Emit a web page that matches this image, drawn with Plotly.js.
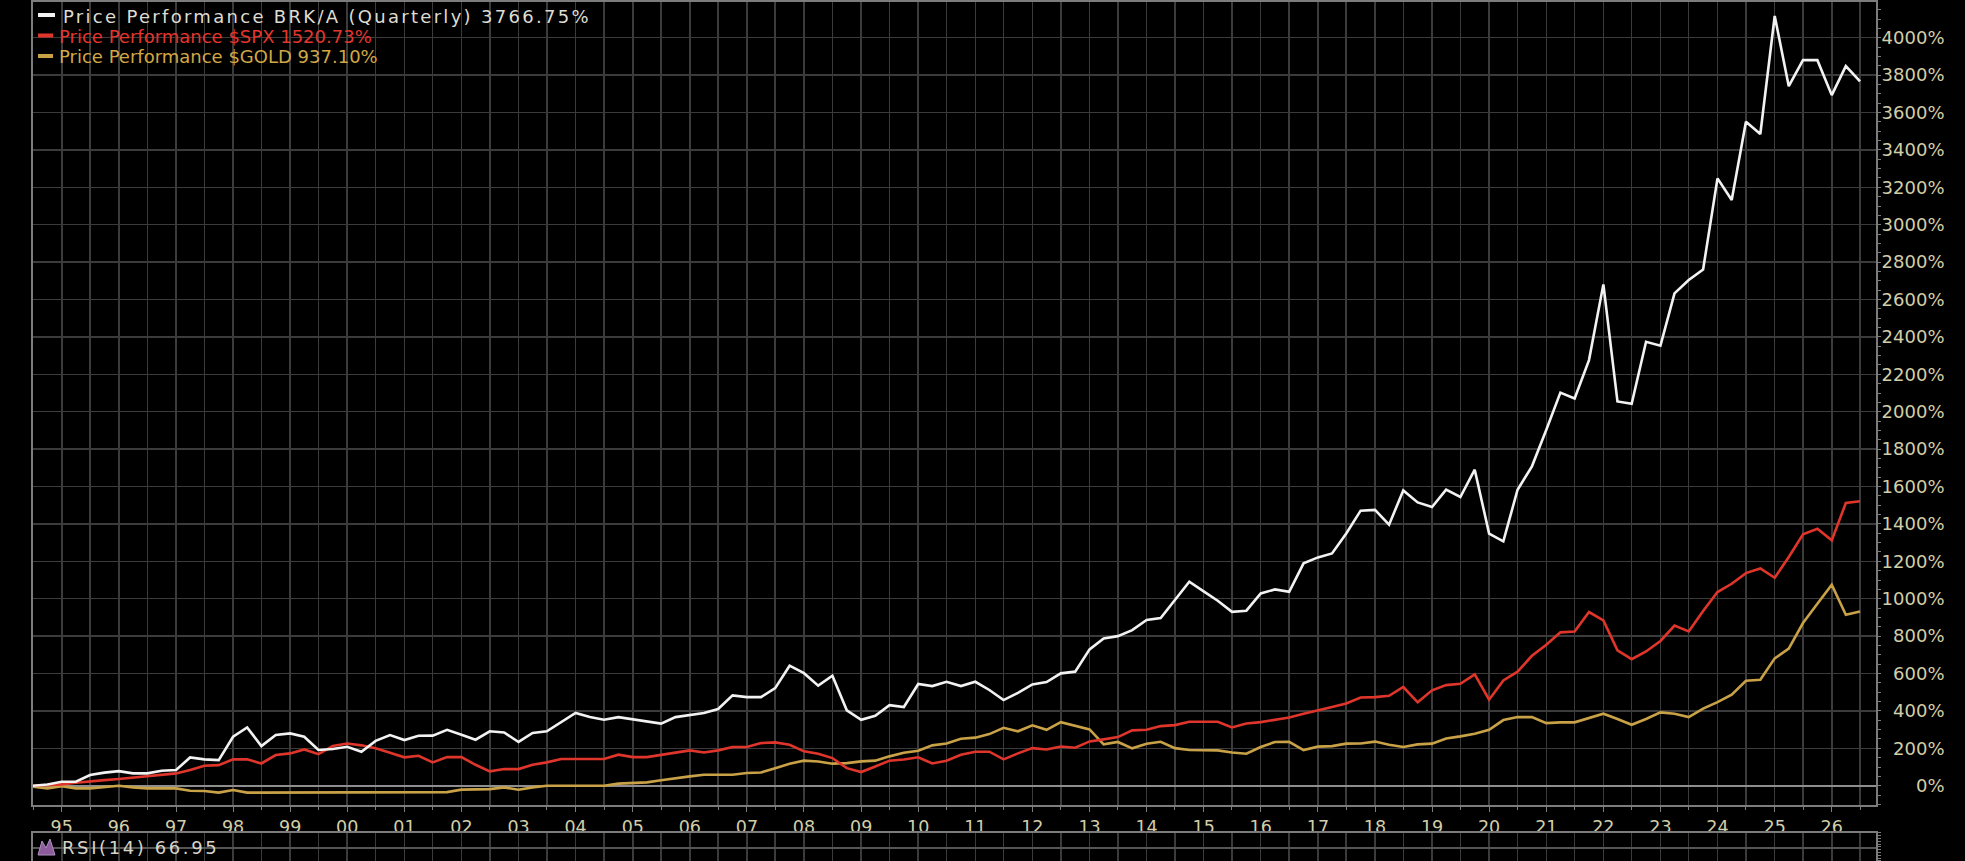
<!DOCTYPE html>
<html>
<head>
<meta charset="utf-8">
<script src="https://cdn.plot.ly/plotly-3.0.1.min.js"></script>
<style>
html,body{margin:0;padding:0;background:#000;}
#chart{width:1965px;height:861px;}
</style>
</head>
<body>
<div id="chart"></div>
<script>
// Quarterly observation dates
const quarters = [
"1994-07-01","1994-10-01",
"1995-01-01","1995-04-01","1995-07-01","1995-10-01",
"1996-01-01","1996-04-01","1996-07-01","1996-10-01",
"1997-01-01","1997-04-01","1997-07-01","1997-10-01",
"1998-01-01","1998-04-01","1998-07-01","1998-10-01",
"1999-01-01","1999-04-01","1999-07-01","1999-10-01",
"2000-01-01","2000-04-01","2000-07-01","2000-10-01",
"2001-01-01","2001-04-01","2001-07-01","2001-10-01",
"2002-01-01","2002-04-01","2002-07-01","2002-10-01",
"2003-01-01","2003-04-01","2003-07-01","2003-10-01",
"2004-01-01","2004-04-01","2004-07-01","2004-10-01",
"2005-01-01","2005-04-01","2005-07-01","2005-10-01",
"2006-01-01","2006-04-01","2006-07-01","2006-10-01",
"2007-01-01","2007-04-01","2007-07-01","2007-10-01",
"2008-01-01","2008-04-01","2008-07-01","2008-10-01",
"2009-01-01","2009-04-01","2009-07-01","2009-10-01",
"2010-01-01","2010-04-01","2010-07-01","2010-10-01",
"2011-01-01","2011-04-01","2011-07-01","2011-10-01",
"2012-01-01","2012-04-01","2012-07-01","2012-10-01",
"2013-01-01","2013-04-01","2013-07-01","2013-10-01",
"2014-01-01","2014-04-01","2014-07-01","2014-10-01",
"2015-01-01","2015-04-01","2015-07-01","2015-10-01",
"2016-01-01","2016-04-01","2016-07-01","2016-10-01",
"2017-01-01","2017-04-01","2017-07-01","2017-10-01",
"2018-01-01","2018-04-01","2018-07-01","2018-10-01",
"2019-01-01","2019-04-01","2019-07-01","2019-10-01",
"2020-01-01","2020-04-01","2020-07-01","2020-10-01",
"2021-01-01","2021-04-01","2021-07-01","2021-10-01",
"2022-01-01","2022-04-01","2022-07-01","2022-10-01",
"2023-01-01","2023-04-01","2023-07-01","2023-10-01",
"2024-01-01","2024-04-01","2024-07-01","2024-10-01",
"2025-01-01","2025-04-01","2025-07-01","2025-10-01",
"2026-01-01","2026-04-01","2026-07-01"
];

// Price performance (%) BRK/A
const brkPerf = [
0, 7,
21, 21, 57, 70,
78, 66, 66, 80,
84, 151, 141, 137,
262, 312, 212, 271,
280, 262, 191, 196,
208, 182, 240, 271,
244, 267, 268, 299,
273, 246, 291, 285,
234, 282, 291, 339,
389, 367, 353, 367,
356, 344, 332, 367,
380, 389, 410, 483,
474, 474, 522, 642,
602, 535, 588, 403,
353, 374, 431, 421,
544, 533, 556, 533,
556, 512, 458, 497,
542, 554, 601, 610,
729, 788, 800, 832,
886, 897, 993, 1091,
1039, 989, 930, 936,
1028, 1050, 1037, 1189,
1221, 1242, 1349, 1471,
1475, 1396, 1579, 1515,
1490, 1583, 1544, 1690,
1348, 1307, 1583, 1708,
1904, 2102, 2071, 2276,
2681, 2055, 2043, 2374,
2353, 2633, 2704, 2761,
3248, 3132, 3551, 3485,
4116, 3741, 3880, 3880,
3693, 3848, 3767
];

// Price performance (%) $SPX
const spxPerf = [
0, 4,
7, 16, 21, 30,
36, 43, 48, 57,
66, 84, 107, 110,
141, 141, 119, 164,
173, 194, 169, 212,
226, 216, 200, 176,
152, 160, 125, 153,
153, 112, 77, 89,
89, 112, 125, 143,
143, 143, 143, 166,
153, 153, 166, 178,
189, 178, 189, 207,
207, 228, 232, 219,
184, 171, 148, 94,
73, 103, 134, 140,
152, 119, 134, 166,
182, 182, 141, 173,
201, 194, 210, 203,
237, 248, 260, 296,
299, 319, 324, 342,
342, 342, 312, 333,
340, 353, 365, 385,
405, 421, 440, 472,
474, 481, 528, 446,
510, 538, 545, 595,
460, 563, 610, 695,
754, 820, 825, 929,
884, 724, 677, 718,
774, 856, 825, 934,
1036, 1080, 1137, 1162,
1112, 1223, 1344, 1374,
1312, 1512, 1521
];

// Price performance (%) $GOLD
const goldPerf = [
-5, -14,
-2, -14, -14, -5,
0, -9, -14, -14,
-14, -27, -28, -37,
-23, -37, -37, -36,
-36, -37, -35, -36,
-36, -37, -36, -37,
-37, -37, -33, -34,
-21, -18, -18, -9,
-21, -9, 0, 0,
0, 0, 0, 11,
14, 18, 29, 41,
50, 59, 59, 59,
68, 71, 94, 118,
134, 130, 118, 121,
130, 134, 157, 176,
187, 216, 226, 251,
257, 276, 310, 291,
323, 299, 340, 321,
301, 221, 234, 200,
225, 235, 201, 191,
191, 189, 178, 171,
207, 234, 235, 191,
209, 212, 225, 226,
236, 219, 207, 221,
225, 253, 264, 278,
299, 351, 367, 367,
335, 339, 339, 360,
385, 357, 326, 357,
392, 385, 367, 412,
447, 487, 561, 567,
681, 733, 870, 973,
1075, 914, 932
];

const seriesNames = [
  "Price Performance BRK/A (Quarterly) 3766.75%",
  "Price Performance $SPX 1520.73%",
  "Price Performance $GOLD 937.10%"
];
const rsiLabel = "RSI(14) 66.95";

const yTickVals = [0,200,400,600,800,1000,1200,1400,1600,1800,2000,2200,2400,2600,2800,3000,3200,3400,3600,3800,4000];
const yTickText = yTickVals.map(v => "\u2007".repeat(4 - String(v).length) + v + "%");

const WHITE = "#f2f2f2", RED = "#e0352b", GOLD = "#c9a247";
const GRID = "#3b3b3b", FRAME = "#7c7c7c", TICKC = "#d2cea8";
const FONT = "DejaVu Sans";

const traces = [
  {x: quarters, y: goldPerf, type: "scatter", mode: "lines", name: seriesNames[2],
   line: {color: GOLD, width: 2.6}, xaxis: "x", yaxis: "y", hoverinfo: "skip"},
  {x: quarters, y: spxPerf, type: "scatter", mode: "lines", name: seriesNames[1],
   line: {color: RED, width: 2.6}, xaxis: "x", yaxis: "y", hoverinfo: "skip"},
  {x: quarters, y: brkPerf, type: "scatter", mode: "lines", name: seriesNames[0],
   line: {color: WHITE, width: 2.6}, xaxis: "x", yaxis: "y", hoverinfo: "skip"},
  {x: [], y: [], type: "scatter", mode: "lines", xaxis: "x2", yaxis: "y2", showlegend: false}
];

// pixel helpers for decoration placement (plot area: l=33, w=1843, t=2, h=859)
const px = p => (p - 33) / 1843;
const py = p => (861 - p) / 859;

const layout = {
  width: 1965, height: 861,
  paper_bgcolor: "#000", plot_bgcolor: "#000",
  margin: {l: 33, r: 89, t: 2, b: 0, pad: 0},
  showlegend: false,
  font: {family: FONT, color: TICKC, size: 17},
  xaxis: {
    type: "date", anchor: "y", domain: [0, 1],
    range: ["1994-07-01", "2026-10-11"],
    tick0: "1995-01-01", dtick: "M12", tickformat: "%y",
    ticks: "outside", ticklen: 5, tickwidth: 1, tickcolor: FRAME,
    tickfont: {family: FONT, size: 17.5, color: TICKC},
    showgrid: true, gridcolor: GRID, gridwidth: 1.5,
    minor: {tick0: "1995-01-01", dtick: "M6", showgrid: true, gridcolor: GRID, gridwidth: 1.5,
            ticks: "outside", ticklen: 3, tickcolor: FRAME},
    showline: true, linecolor: FRAME, linewidth: 2, mirror: true, zeroline: false
  },
  yaxis: {
    anchor: "x", domain: [0.0652, 1], side: "right",
    range: [-103, 4191],
    tickmode: "array", tickvals: yTickVals, ticktext: yTickText,
    ticks: "", tickfont: {family: FONT, size: 18, color: TICKC},
    showgrid: true, gridcolor: GRID, gridwidth: 1.5,
    zeroline: true, zerolinecolor: "#8e8e8e", zerolinewidth: 2,
    minor: {dtick: 50, tick0: 0, ticks: "outside", ticklen: 3, tickcolor: FRAME, showgrid: false},
    showline: true, linecolor: FRAME, linewidth: 2, mirror: true
  },
  xaxis2: {
    type: "date", anchor: "y2", matches: "x", domain: [0, 1],
    range: ["1994-07-01", "2026-10-11"],
    tick0: "1995-01-01", dtick: "M12", showticklabels: false, ticks: "",
    showgrid: true, gridcolor: GRID, gridwidth: 1.5,
    minor: {tick0: "1995-01-01", dtick: "M6", showgrid: true, gridcolor: GRID, gridwidth: 1.5},
    showline: true, linecolor: FRAME, linewidth: 2, mirror: true, zeroline: false
  },
  yaxis2: {
    anchor: "x2", domain: [0, 0.0326], side: "right", range: [0, 100],
    tickmode: "array", tickvals: [46], showticklabels: false, ticks: "",
    showgrid: true, gridcolor: "#555555", gridwidth: 1.5, zeroline: false,
    minor: {dtick: 10, ticks: "outside", ticklen: 3, tickcolor: FRAME},
    showline: true, linecolor: FRAME, linewidth: 2, mirror: true
  },
  shapes: [
    {type: "line", xref: "paper", yref: "paper", x0: px(38), x1: px(55), y0: py(15), y1: py(15),
     line: {color: WHITE, width: 4}},
    {type: "line", xref: "paper", yref: "paper", x0: px(38), x1: px(53), y0: py(35.5), y1: py(35.5),
     line: {color: RED, width: 4}},
    {type: "line", xref: "paper", yref: "paper", x0: px(38), x1: px(53), y0: py(56), y1: py(56),
     line: {color: GOLD, width: 4}},
    {type: "path", xref: "paper", yref: "paper",
     path: "M" + px(38) + "," + py(855) + " L" + px(42) + "," + py(841) + " L" + px(46) + "," + py(848) +
           " L" + px(50) + "," + py(839) + " L" + px(55) + "," + py(855) + " Z",
     fillcolor: "#8c5c9c", line: {color: "#b090c0", width: 1}}
  ],
  annotations: [
    {xref: "paper", yref: "paper", x: px(61), y: py(16), xanchor: "left", yanchor: "middle", align: "left",
     text: seriesNames[0], showarrow: false, font: {family: FONT, size: 18, color: "#dedcd0"}},
    {xref: "paper", yref: "paper", x: px(57), y: py(36), xanchor: "left", yanchor: "middle", align: "left",
     text: seriesNames[1], showarrow: false, font: {family: FONT, size: 18, color: "#e2362c"}},
    {xref: "paper", yref: "paper", x: px(57), y: py(57), xanchor: "left", yanchor: "middle", align: "left",
     text: seriesNames[2], showarrow: false, font: {family: FONT, size: 18, color: "#d2a745"}},
    {xref: "paper", yref: "paper", x: px(60), y: py(847), xanchor: "left", yanchor: "middle", align: "left",
     text: rsiLabel, showarrow: false, font: {family: FONT, size: 18, color: "#d6d4c8"}}
  ]
};

Plotly.newPlot("chart", traces, layout, {displayModeBar: false, staticPlot: true}).then(() => {
  document.querySelectorAll("text.annotation-text").forEach(t => {
    const s = t.textContent;
    if (s.indexOf("BRK/A") >= 0) t.style.letterSpacing = "2.3px";
    if (s.indexOf("RSI") >= 0) t.style.letterSpacing = "2.6px";
  });
});
</script>
</body>
</html>
